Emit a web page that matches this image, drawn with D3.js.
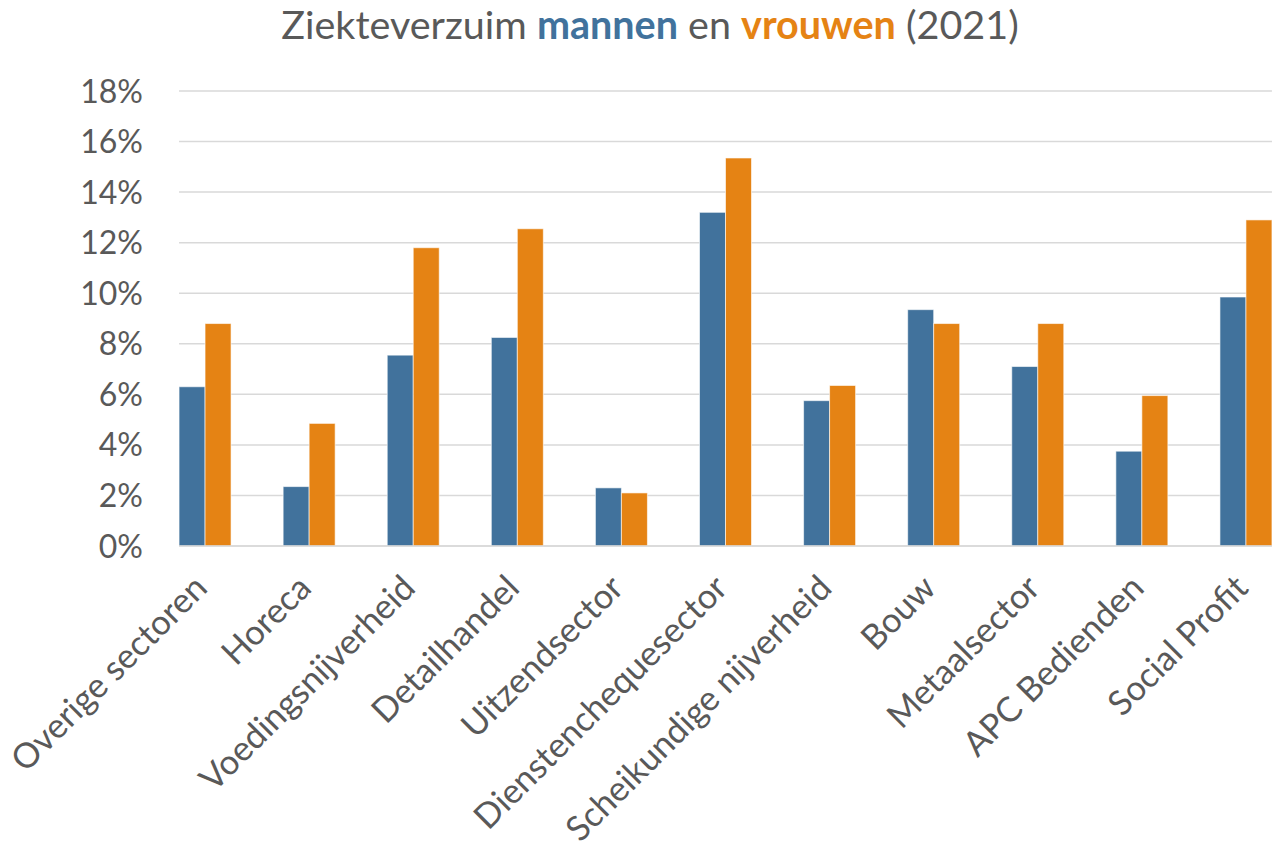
<!DOCTYPE html>
<html>
<head>
<meta charset="utf-8">
<script src="https://cdnjs.cloudflare.com/ajax/libs/d3/7.8.5/d3.min.js"></script>
<style>
  body { margin: 0; background: #fff; }
  svg text { font-family: Lato, "Open Sans", sans-serif; fill: #595959; }
</style>
</head>
<body>
<div id="chart"></div>
<script>
// sectoren en percentages ziekteverzuim (2021)
const sectoren = ["Overige sectoren", "Horeca", "Voedingsnijverheid", "Detailhandel",
  "Uitzendsector", "Dienstenchequesector", "Scheikundige nijverheid", "Bouw",
  "Metaalsector", "APC Bedienden", "Social Profit"];
const mannen = [6.3, 2.35, 7.55, 8.25, 2.3, 13.2, 5.75, 9.35, 7.1, 3.75, 9.85];
const vrouwen = [8.8, 4.85, 11.8, 12.55, 2.1, 15.35, 6.35, 8.8, 8.8, 5.95, 12.9];
const yTicks = [0, 2, 4, 6, 8, 10, 12, 14, 16, 18];

const width = 1286, height = 851;
const plotTop = 91, plotBottom = 546;
const blauw = "#41729c", oranje = "#e58314";

const svg = d3.select("#chart").append("svg")
  .attr("width", width)
  .attr("height", height);

// schalen
const xScale = d3.scaleBand()
  .domain(sectoren)
  .range([153, 1298])
  .paddingInner(0);

const barW = 26;
const inner = d3.scaleBand()
  .domain(["mannen", "vrouwen"])
  .range([xScale.bandwidth() / 2 - barW, xScale.bandwidth() / 2 + barW]);

const yScale = d3.scaleLinear()
  .domain([0, 18])
  .range([plotBottom, plotTop]);

const gridX0 = xScale(sectoren[0]) + inner("mannen");
const gridX1 = xScale(sectoren[sectoren.length - 1]) + inner("vrouwen") + barW;

// rasterlijnen
svg.append("g")
  .selectAll("line")
  .data(yTicks)
  .enter()
  .append("line")
  .attr("x1", gridX0)
  .attr("x2", gridX1)
  .attr("y1", d => yScale(d))
  .attr("y2", d => yScale(d))
  .attr("stroke", "#d9d9d9")
  .attr("stroke-width", 1.5);

// y-as labels
svg.append("g")
  .selectAll("text")
  .data(yTicks)
  .enter()
  .append("text")
  .attr("x", 143)
  .attr("y", d => yScale(d))
  .attr("dy", "0.36em")
  .attr("text-anchor", "end")
  .style("font-size", "32px")
  .text(d => d + "%");

// balken
const groups = svg.append("g")
  .selectAll("g")
  .data(sectoren.map((s, i) => ({ name: s, mannen: mannen[i], vrouwen: vrouwen[i] })))
  .enter()
  .append("g")
  .attr("transform", d => `translate(${xScale(d.name)},0)`);

groups.selectAll("rect")
  .data(d => [{ key: "mannen", value: d.mannen }, { key: "vrouwen", value: d.vrouwen }])
  .enter()
  .append("rect")
  .attr("x", d => inner(d.key))
  .attr("y", d => yScale(d.value))
  .attr("width", inner.bandwidth())
  .attr("height", d => plotBottom - yScale(d.value))
  .attr("fill", d => d.key === "mannen" ? blauw : oranje)
  .attr("stroke", "#ffffff")
  .attr("stroke-opacity", 0.6)
  .attr("stroke-width", 1);

// x-as lijn
svg.append("line")
  .attr("x1", gridX0)
  .attr("x2", gridX1)
  .attr("y1", plotBottom)
  .attr("y2", plotBottom)
  .attr("stroke", "#d9d9d9")
  .attr("stroke-width", 1.5);

// categorie labels (schuin)
svg.append("g")
  .selectAll("text")
  .data(sectoren)
  .enter()
  .append("text")
  .attr("transform", d => `translate(${xScale(d) + xScale.bandwidth() / 2 + 4},${plotBottom + 44}) rotate(-45)`)
  .attr("text-anchor", "end")
  .style("font-size", "34.5px")
  .text(d => d);

// titel
const title = svg.append("text")
  .attr("x", 650)
  .attr("y", 39)
  .attr("text-anchor", "middle")
  .style("font-size", "39.5px");
title.append("tspan").text("Ziekteverzuim ");
title.append("tspan").style("font-weight", "bold").style("fill", blauw).text("mannen");
title.append("tspan").text(" en ");
title.append("tspan").style("font-weight", "bold").style("fill", oranje).text("vrouwen");
title.append("tspan").text(" (2021)");
</script>
</body>
</html>
